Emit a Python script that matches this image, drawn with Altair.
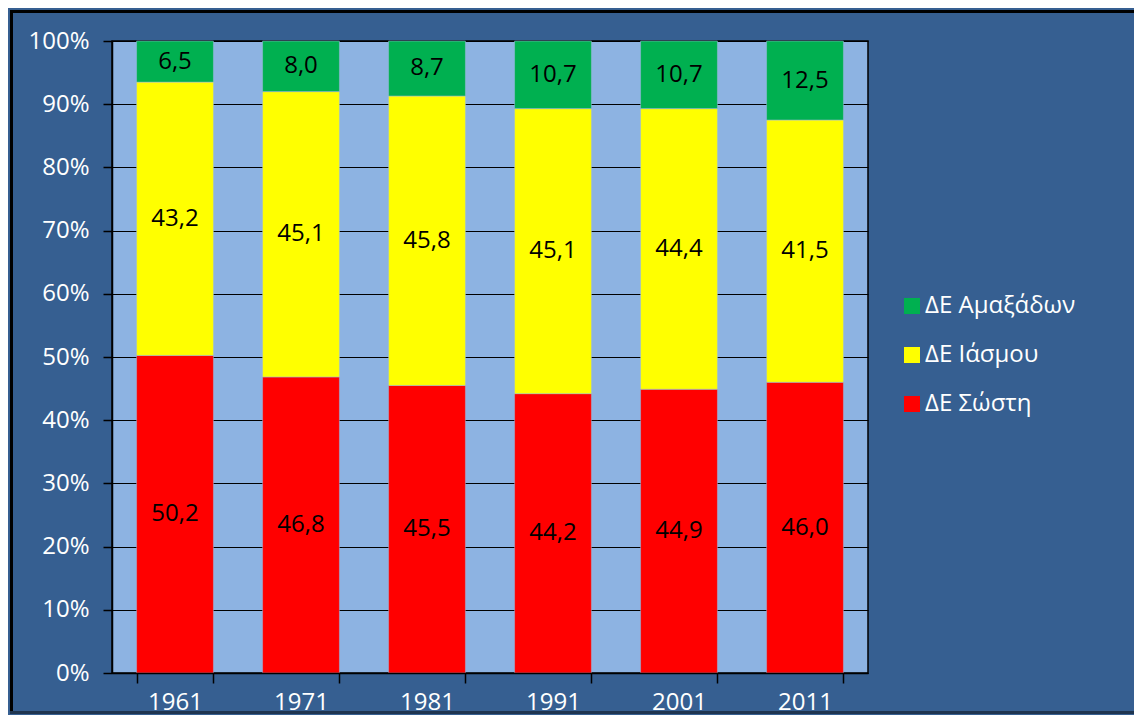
import altair as alt
import pandas as pd

years = ["1961", "1971", "1981", "1991", "2001", "2011"]
sosti = [50.2, 46.8, 45.5, 44.2, 44.9, 46.0]
iasmou = [43.2, 45.1, 45.8, 45.1, 44.4, 41.5]
amaxadon = [6.5, 8.0, 8.7, 10.7, 10.7, 12.5]
series = ["ΔΕ Σώστη", "ΔΕ Ιάσμου", "ΔΕ Αμαξάδων"]
legend_order = ["ΔΕ Αμαξάδων", "ΔΕ Ιάσμου", "ΔΕ Σώστη"]
legend_colors = ["#00B050", "#FFFF00", "#FF0000"]
y_ticks = [0, 0.1, 0.2, 0.3, 0.4, 0.5, 0.6, 0.7, 0.8, 0.9, 1.0]

rows = []
for i, yr in enumerate(years):
    for k, (name, vals) in enumerate(zip(series, [sosti, iasmou, amaxadon])):
        rows.append({
            "year": yr,
            "series": name,
            "value": vals[i],
            "ord": k,
            "label": f"{vals[i]:.1f}".replace(".", ","),
        })
df = pd.DataFrame(rows)

FONT = "Open Sans"
BG = "#365F91"
PLOT = "#8DB3E2"

W_TOTAL, H_TOTAL = 1126, 707
PAD = {"left": 104, "top": 33, "right": 266, "bottom": 42}
PW = W_TOTAL - PAD["left"] - PAD["right"]
PH = H_TOTAL - PAD["top"] - PAD["bottom"]

base = alt.Chart(df).transform_stack(
    stack="value",
    groupby=["year"],
    as_=["y0", "y1"],
    offset="normalize",
    sort=[alt.SortField("ord", order="ascending")],
).transform_calculate(mid="(datum.y0 + datum.y1) / 2")

x_enc = alt.X(
    "year:N",
    sort=years,
    scale=alt.Scale(paddingInner=0.39, paddingOuter=0.195),
    axis=alt.Axis(
        title=None, labelAngle=0, tickBand="extent", grid=False,
        labelColor="white", labelFont=FONT, labelFontSize=24,
        labelPadding=7, tickSize=10, tickColor="black", domainColor="black",
        domainWidth=1.5, tickWidth=1.5, zindex=1,
    ),
)

bars = base.mark_bar(stroke="#9DB9DD", strokeWidth=0.5).encode(
    x=x_enc,
    y=alt.Y(
        "y0:Q",
        scale=alt.Scale(domain=[0, 1], nice=False),
        axis=alt.Axis(
            title=None, format=".0%", values=y_ticks, grid=True,
            gridColor="black", gridWidth=1.2, labelColor="white",
            labelFont=FONT, labelFontSize=24, labelPadding=14,
            tickSize=9, tickColor="black", tickWidth=1.5,
            domainColor="black", domainWidth=1.5,
        ),
    ),
    y2="y1:Q",
    color=alt.Color(
        "series:N",
        scale=alt.Scale(domain=legend_order, range=legend_colors),
        legend=alt.Legend(
            title=None, orient="none", legendX=788, legendY=253,
            symbolType="square", symbolSize=256, symbolStrokeWidth=0,
            labelColor="white", labelFont=FONT, labelFontSize=24,
            labelOffset=1, rowPadding=25, padding=0,
        ),
    ),
    order=alt.Order("ord:Q", sort="ascending"),
)

labels = base.mark_text(
    font=FONT, fontSize=24, color="black", baseline="middle", align="center"
).encode(
    x=alt.X("year:N", sort=years),
    y=alt.Y("mid:Q"),
    text="label:N",
)

# decorative outer frame (left, top, bottom edges)
fdf = pd.DataFrame({"f": [0]})
L = 3.5 - PAD["left"]
T = 3.5 - PAD["top"]
R = W_TOTAL - PAD["left"]
B = H_TOTAL - PAD["top"] - 2.5
frame_left = alt.Chart(fdf).mark_rule(color="black", strokeWidth=3).encode(
    x=alt.value(L), y=alt.value(T - 1.5), y2=alt.value(B + 1.5)
)
frame_top = alt.Chart(fdf).mark_rule(color="black", strokeWidth=3).encode(
    x=alt.value(L - 1.5), x2=alt.value(R), y=alt.value(T)
)
frame_bottom = alt.Chart(fdf).mark_rule(color="#1F3550", strokeWidth=3).encode(
    x=alt.value(L - 1.5), x2=alt.value(R), y=alt.value(B)
)

chart = alt.layer(bars, labels, frame_left, frame_top, frame_bottom).properties(
    width=PW,
    height=PH,
    background=BG,
    padding=PAD,
    autosize=alt.AutoSizeParams(type="none"),
).configure_view(
    fill=PLOT, stroke="black", strokeWidth=1.5
)

chart.save("out.html", embed_options={"renderer": "svg", "actions": False})
